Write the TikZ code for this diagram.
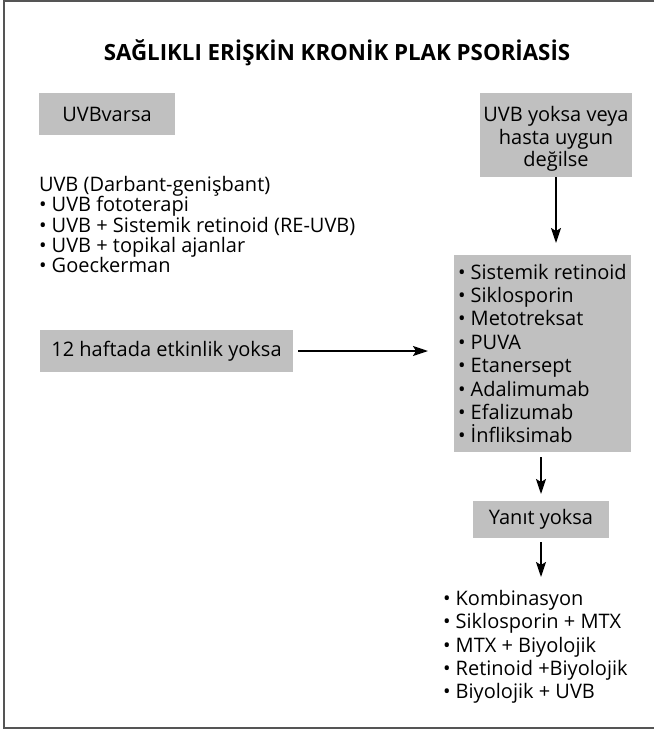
\documentclass[tikz,border=0pt]{standalone}
\usepackage{fontspec}
\setmainfont{Open Sans}
\usetikzlibrary{arrows.meta}
\definecolor{boxgray}{RGB}{192,192,192}
\definecolor{framegray}{RGB}{85,85,85}
\begin{document}
\begin{tikzpicture}[x=1pt,y=-1pt,
  every node/.style={inner sep=0pt, outer sep=0pt},
  bodyfont/.style={font=\fontsize{20}{23.4}\selectfont},
  graybox/.style={fill=boxgray, bodyfont, align=center},
  flow/.style={line width=1.8pt, -{Stealth[length=15pt, width=10pt, inset=3pt]}},
  framestroke/.style={draw=framegray, line width=1.8pt}]
\useasboundingbox (0,0) rectangle (654,729);

% outer frame: open on the right
\draw[framestroke] (654,1) -- (4,1) -- (4,728) -- (654,728);

% title
\node[font=\fontsize{22.3}{26}\selectfont\bfseries] (title) at (337,52.5)
  {SAĞLIKLI ERİŞKİN KRONİK PLAK PSORİASİS};

% left column
\node[graybox, minimum width=136pt, minimum height=42pt] (uvbvar) at (107,114) {UVBvarsa};
\node[font=\fontsize{20}{20.4}\selectfont, align=left, anchor=north west] (uvblist) at (39,176)
  {UVB (Darbant-genişbant)\\
   • UVB fototerapi\\
   • UVB + Sistemik retinoid (RE-UVB)\\
   • UVB + topikal ajanlar\\
   • Goeckerman};
\node[graybox, minimum width=253pt, minimum height=42pt] (hafta) at (166.5,351) {12 haftada etkinlik yoksa};

% right column
\node[fill=boxgray, minimum width=152pt, minimum height=84pt] (uvbyok) at (556,135) {};
\node[align=center, font=\fontsize{20}{22.5}\selectfont] (uvbyoktext) at (556,139)
  {UVB yoksa veya\\hasta uygun\\değilse};
\node[fill=boxgray, minimum width=177pt, minimum height=197pt, anchor=north west] (ilac) at (454,255) {};
\node[bodyfont, align=left, anchor=west] (ilactext) at ([xshift=4pt]ilac.west)
  {• Sistemik retinoid\\
   • Siklosporin\\
   • Metotreksat\\
   • PUVA\\
   • Etanersept\\
   • Adalimumab\\
   • Efalizumab\\
   • İnfliksimab};
\node[graybox, minimum width=136pt, minimum height=37pt] (yanit) at (541,519.5) {Yanıt yoksa};
\node[bodyfont, align=left, anchor=north west] (kombi) at (443,590)
  {• Kombinasyon\\
   • Siklosporin + MTX\\
   • MTX + Biyolojik\\
   • Retinoid +Biyolojik\\
   • Biyolojik + UVB};

% connectors
\draw[flow, shorten >=12pt] (uvbyok.south) -- (uvbyok.south |- ilac.north);
\draw[flow, shorten <=5pt, shorten >=26pt] (hafta.east) -- (hafta.east -| ilac.west);
\draw[flow, shorten <=5pt, shorten >=7pt] (yanit.north |- ilac.south) -- (yanit.north);
\draw[flow, shorten <=4pt, shorten >=13pt] (yanit.south) -- (yanit.south |- kombi.north);
\end{tikzpicture}
\end{document}
